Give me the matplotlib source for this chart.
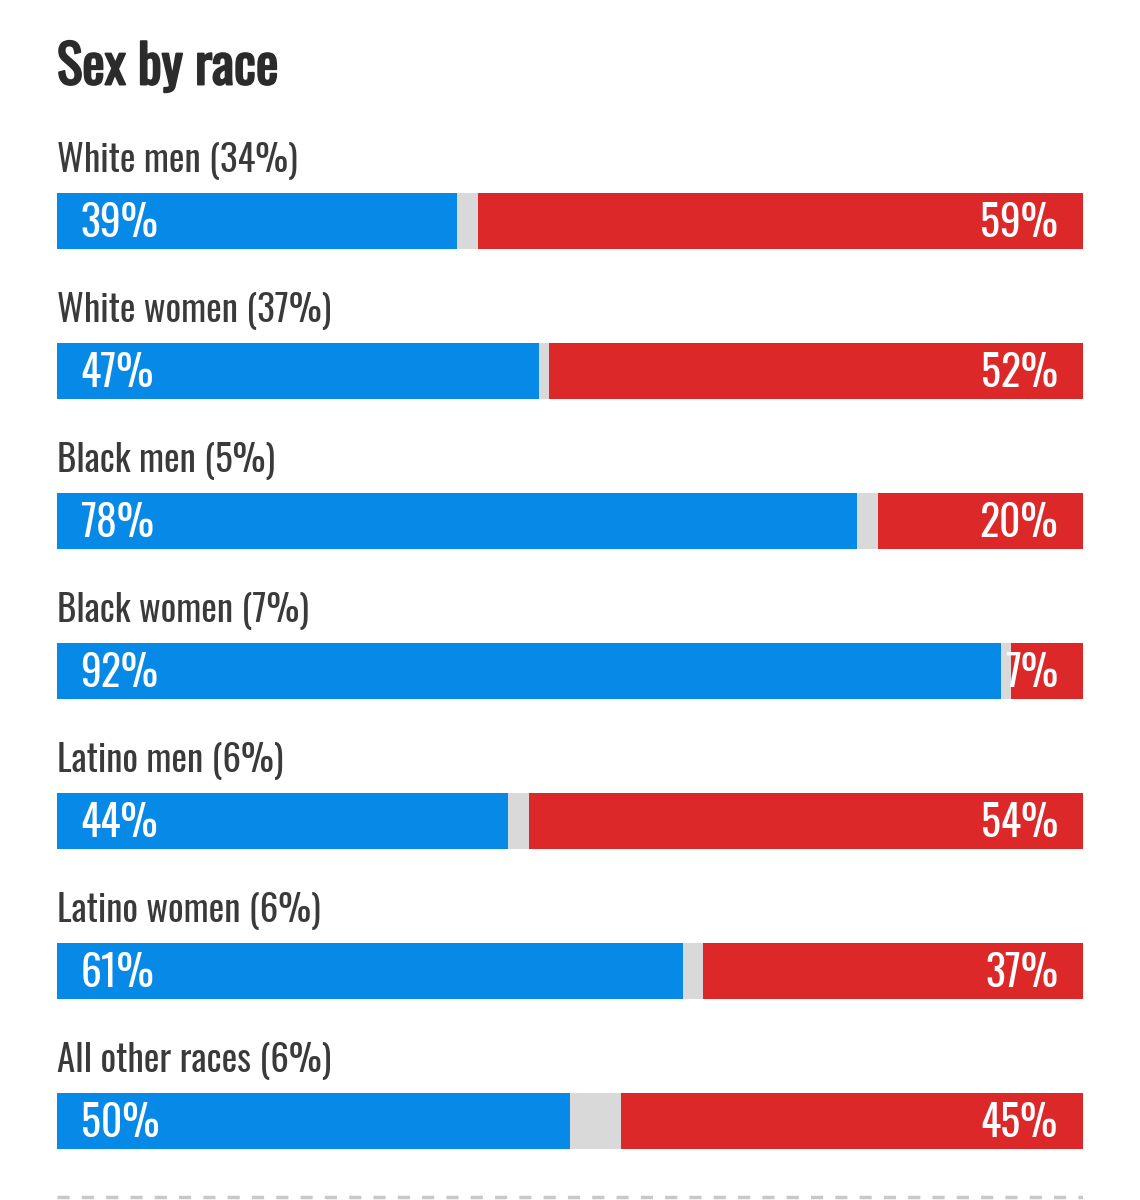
import matplotlib
matplotlib.use("Agg")
import matplotlib.pyplot as plt
import matplotlib.patheffects as pe
from matplotlib import font_manager

categories = ["White men (34%)", "White women (37%)", "Black men (5%)", "Black women (7%)",
              "Latino men (6%)", "Latino women (6%)", "All other races (6%)"]
dem = [39, 47, 78, 92, 44, 61, 50]
rep = [59, 52, 20, 7, 54, 37, 45]

names = {f.name for f in font_manager.fontManager.ttflist}
FAM = "DejaVu Sans"
for cand in ["Oswald", "Barlow Condensed", "Roboto Condensed", "Liberation Sans Narrow"]:
    if cand in names:
        FAM = cand
        break

BLUE = "#0789E8"
RED = "#DC2828"
GRAY = "#D9D9D9"
DARK = "#2B2B2B"

W, H = 1140, 1200
fig = plt.figure(figsize=(W / 100, H / 100), dpi=100)
fig.patch.set_facecolor("white")
ax = fig.add_axes([57 / W, 0, 1026 / W, 1])
ax.set_xlim(0, 100)
row = 150.0
first = 221.0
ax.set_ylim((H - first) / row, -first / row)
ax.axis("off")

ys = list(range(len(categories)))
bh = 56 / row
gray = [100 - d - r for d, r in zip(dem, rep)]
left_red = [d + g for d, g in zip(dem, gray)]
ax.barh(ys, dem, height=bh, color=BLUE, left=0)
ax.barh(ys, gray, height=bh, color=GRAY, left=dem)
ax.barh(ys, rep, height=bh, color=RED, left=left_red)

for y, cat, d, r in zip(ys, categories, dem, rep):
    ax.annotate(cat, (0, y - 63 / row), xytext=(0, -2), textcoords="offset points",
                ha="left", va="center", fontsize=26.5, family=FAM, color="#3A3A3A")
    ax.annotate(f"{d}%", (0, y), xytext=(17, -2), textcoords="offset points",
                ha="left", va="center", fontsize=30, family=FAM, color="white")
    ax.annotate(f"{r}%", (100, y), xytext=(-18, -2), textcoords="offset points",
                ha="right", va="center", fontsize=30, family=FAM, color="white")

ax.axhline((1197 - first) / row, xmin=0, xmax=1, color="#C8C8C8", lw=2.5,
           linestyle=(0, (3.5, 3.5)))

fig.text(57 / W, 1 - 68 / H, "Sex by race", ha="left", va="center", fontsize=38.5,
         family=FAM, color=DARK,
         path_effects=[pe.withStroke(linewidth=1.4, foreground=DARK)])

fig.savefig("out.png", dpi=100, facecolor="white")
